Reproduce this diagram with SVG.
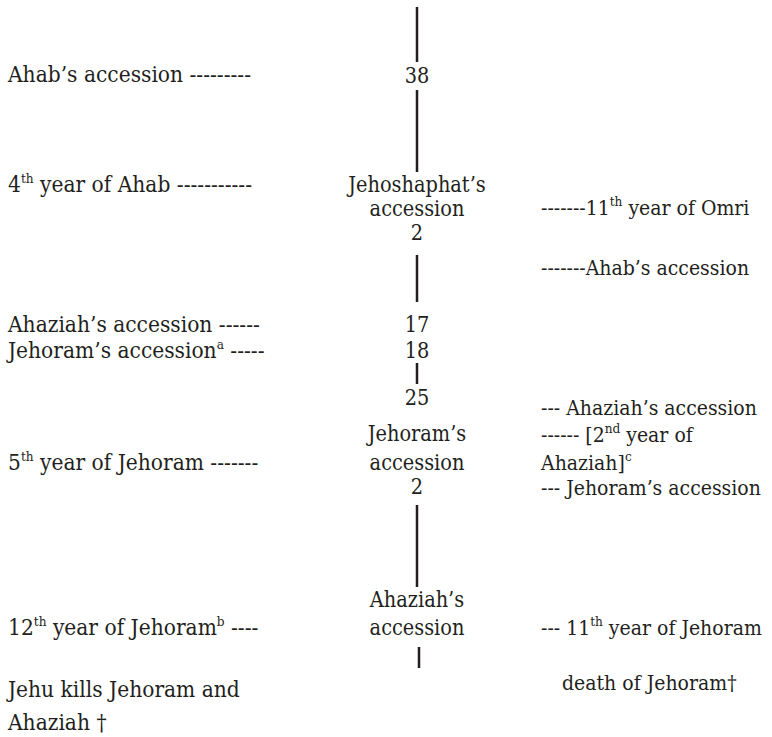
<svg xmlns="http://www.w3.org/2000/svg" width="772" height="737" viewBox="0 0 772 737">
<style>
text{font-family:'DejaVu Serif',serif;font-stretch:condensed;font-size:22.5px;fill:#231f20}
.c{text-anchor:middle;font-size:21.5px}
.r{font-size:21px}
.sup{font-size:13.5px}
.ln{stroke:#231f20;stroke-width:2.5;fill:none}
</style>
<rect width="772" height="737" fill="#fff"/>
<g id="connectors">
<line class="ln" x1="417" y1="7" x2="417" y2="62"/>
<line class="ln" x1="417" y1="90" x2="417" y2="172"/>
<line class="ln" x1="417" y1="255" x2="417" y2="302"/>
<line class="ln" x1="417" y1="363" x2="417" y2="384"/>
<line class="ln" x1="417" y1="505" x2="417" y2="587"/>
<line class="ln" x1="419" y1="647" x2="419" y2="668"/>
</g>
<g id="left">
<g id="l1"><text x="8" y="82">Ahab’s accession ---------</text></g>
<g id="l2"><text x="8" y="192">4<tspan class="sup" dy="-9">th</tspan><tspan dy="9"> year of Ahab -----------</tspan></text></g>
<g id="l3"><text x="8" y="332">Ahaziah’s accession ------</text></g>
<g id="l4"><text x="8" y="358">Jehoram’s accession<tspan class="sup" dy="-9">a</tspan><tspan dy="9"> -----</tspan></text></g>
<g id="l5"><text x="8" y="470">5<tspan class="sup" dy="-9">th</tspan><tspan dy="9"> year of Jehoram -------</tspan></text></g>
<g id="l6"><text x="8" y="635">12<tspan class="sup" dy="-9">th</tspan><tspan dy="9"> year of Jehoram</tspan><tspan class="sup" dy="-9">b</tspan><tspan dy="9"> ----</tspan></text></g>
<g id="l7"><text x="8" y="697">Jehu kills Jehoram and</text><text x="8" y="730">Ahaziah †</text></g>
</g>
<g id="center">
<g id="c1"><text class="c" x="417" y="83">38</text></g>
<g id="c2"><text class="c" x="417" y="192">Jehoshaphat’s</text><text class="c" x="417" y="216">accession</text><text class="c" x="417" y="240">2</text></g>
<g id="c3"><text class="c" x="417" y="332">17</text></g>
<g id="c4"><text class="c" x="417" y="358">18</text></g>
<g id="c5"><text class="c" x="417" y="405">25</text></g>
<g id="c6"><text class="c" x="417" y="441">Jehoram’s</text><text class="c" x="417" y="470">accession</text><text class="c" x="417" y="494">2</text></g>
<g id="c7"><text class="c" x="417" y="607">Ahaziah’s</text><text class="c" x="417" y="635">accession</text></g>
</g>
<g id="right">
<g id="r1"><text class="r" x="541" y="215">-------11<tspan class="sup" dy="-9">th</tspan><tspan dy="9"> year of Omri</tspan></text></g>
<g id="r2"><text class="r" x="541" y="275">-------Ahab’s accession</text></g>
<g id="r3"><text class="r" x="541" y="415">--- Ahaziah’s accession</text></g>
<g id="r4"><text class="r" x="541" y="442">------ [2<tspan class="sup" dy="-9">nd</tspan><tspan dy="9"> year of</tspan></text><text class="r" x="541" y="470">Ahaziah]<tspan class="sup" dy="-9">c</tspan></text></g>
<g id="r5"><text class="r" x="541" y="495">--- Jehoram’s accession</text></g>
<g id="r6"><text class="r" x="541" y="635">--- 11<tspan class="sup" dy="-9">th</tspan><tspan dy="9"> year of Jehoram</tspan></text></g>
<g id="r7"><text class="r" x="562" y="690">death of Jehoram†</text></g>
</g>
</svg>
